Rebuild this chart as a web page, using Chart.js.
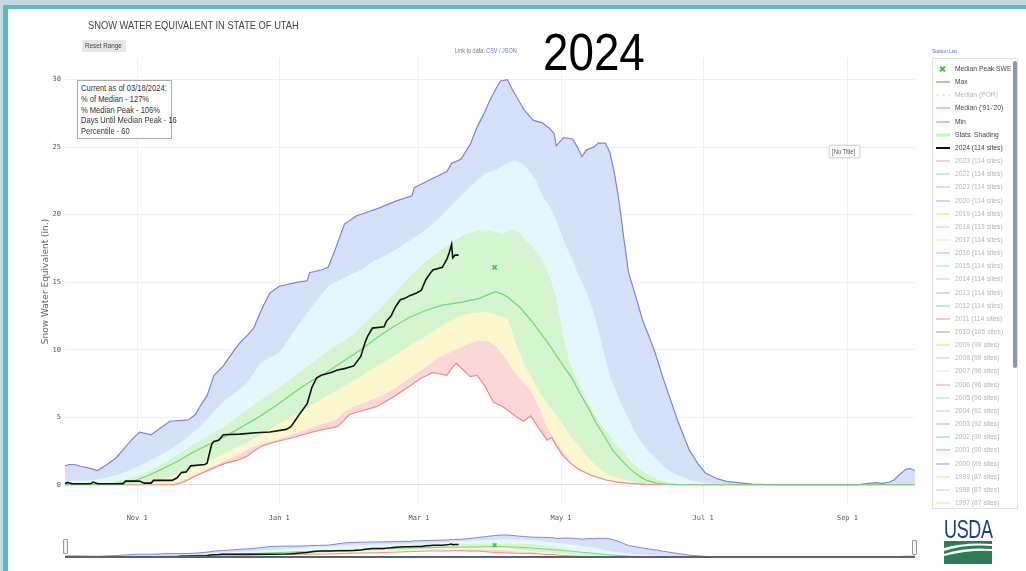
<!DOCTYPE html>
<html>
<head>
<meta charset="utf-8">
<title>Snow Water Equivalent in State of Utah</title>
<script src="https://cdn.jsdelivr.net/npm/chart.js@4.4.3/dist/chart.umd.min.js"></script>
<style>
  html, body { margin: 0; padding: 0; }
  body {
    width: 1026px; height: 571px; position: relative; overflow: hidden;
    background: #fff; font-family: "Liberation Sans", Arial, sans-serif;
  }
  canvas { display: block; }
  .narrow { display: inline-block; white-space: nowrap; transform: scaleX(0.84); transform-origin: left top; }
  .frame-top { position: absolute; left: 0; top: 0; width: 1026px; height: 5px; background: #c4d9df; }
  .frame-top-line { position: absolute; left: 3px; top: 5px; width: 1023px; height: 4px; background: #5fb7c4; }
  .frame-left { position: absolute; left: 0; top: 0; width: 3px; height: 571px; background: #c4d9df; }
  .frame-left-line { position: absolute; left: 3px; top: 5px; width: 5px; height: 566px; background: #5fb7c4; }
  #swe-chart { position: absolute; left: 0; top: 0; }
  #swe-navigator { position: absolute; left: 65px; top: 531px; }
  .chart-title { position: absolute; left: 88px; top: 19px; font-size: 11.5px; line-height: 13px; color: #444; }
  .chart-title .narrow { transform: scaleX(0.81); }
  .reset-range { position: absolute; left: 82px; top: 40px; width: 44px; height: 12px; background: #e6e6e6;
    font-size: 7.5px; line-height: 12px; color: #444; }
  .reset-range .narrow { margin-left: 3px; }
  .data-link { position: absolute; left: 455px; top: 47px; font-size: 6.5px; color: #777; }
  .data-link span span { color: #6680cc; }
  .year-stamp { position: absolute; left: 543px; top: 26px; font-size: 52px; line-height: 52px; color: #000;
    transform: scaleX(0.88); transform-origin: left top; }
  .info-box { position: absolute; left: 77px; top: 80px; width: 90px; height: 55px; border: 1px solid #aaa;
    background: #fff; padding: 2px 0 0 3px; font-size: 9px; line-height: 10.8px; color: #333; }
  .info-box .narrow { display: block; }
  .no-title { position: absolute; left: 829px; top: 145px; width: 29px; height: 11px; border: 1px solid #ddd;
    box-shadow: 0 0 2px #ccc; font-size: 7px; line-height: 11px; color: #555; background: #fff; }
  .no-title .narrow { margin-left: 2px; }
  .station-list { position: absolute; left: 932px; top: 48px; font-size: 6px; color: #5577cc; }
  .legend { position: absolute; left: 932px; top: 58px; width: 84px; height: 449px; border: 1px solid #e2e2e2; background: #fff; }
  .legend-item { position: absolute; left: 2px; height: 12px; width: 78px; }
  .legend-item svg { position: absolute; left: 0; top: 3px; }
  .legend-item .txt { position: absolute; left: 20px; top: 0; font-size: 8px; line-height: 12px; }
  .scrollbar { position: absolute; left: 80px; top: 2px; width: 4px; height: 307px; background: #8e95ad; border-radius: 2px; }
  .handle { position: absolute; width: 3px; height: 13px; border: 1px solid #999; background: #f2f2f2; border-radius: 1px; }
  .usda { position: absolute; left: 944px; top: 517px; width: 50px; }
  .usda .word { font-size: 25px; line-height: 24px; color: #1f3f84; letter-spacing: -0.5px;
    transform: scaleX(0.72); transform-origin: left top; white-space: nowrap; }
</style>
</head>
<body>
<div class="frame-top"></div>
<div class="frame-top-line"></div>
<div class="frame-left"></div>
<div class="frame-left-line"></div>

<canvas id="swe-chart" width="1026" height="530"></canvas>
<canvas id="swe-navigator" width="850" height="28"></canvas>

<div class="chart-title"><span class="narrow">SNOW WATER EQUIVALENT IN STATE OF UTAH</span></div>
<div class="reset-range"><span class="narrow">Reset Range</span></div>
<div class="data-link"><span class="narrow">Link to data: <span>CSV</span> / <span>JSON</span></span></div>
<div class="year-stamp">2024</div>
<div class="info-box" id="info-box"></div>
<div class="no-title"><span class="narrow">[No Title]</span></div>
<div class="station-list"><span class="narrow">Station List</span></div>
<div class="legend" id="legend"><div class="scrollbar"></div></div>
<div class="handle" style="left:63px; top:539px;"></div>
<div class="handle" style="left:912px; top:540px;"></div>
<div class="usda">
  <div class="word">USDA</div>
  <svg width="48" height="23" viewBox="0 0 48 23">
    <rect x="0" y="0" width="48" height="23" fill="#2d7b57"/>
    <path d="M0 7 Q20 1 48 3 L48 5 Q22 3 0 10 Z" fill="#fff"/>
    <path d="M0 13 Q22 6 48 8 L48 10 Q24 9 0 15 Z" fill="#fff"/>
  </svg>
</div>

<script>
// x values are days since Oct 1 (water year 2024), y values are inches of SWE
const monthTickDays = [31, 92, 152, 213, 274, 336];
const monthTickLabels = ["Nov 1", "Jan 1", "Mar 1", "May 1", "Jul 1", "Sep 1"];
const sweTicks = [0, 5, 10, 15, 20, 25, 30];

const maxSwe = [
  [0, 1.4], [2, 1.5], [4, 1.5], [7, 1.35], [10, 1.25], [14, 1.05], [18, 1.5], [22, 2.0], [26, 2.8],
  [29, 3.4], [32, 3.9], [37, 3.7], [41, 4.2], [45, 4.7], [53, 4.8], [56, 5.2], [58, 5.8], [61, 6.6],
  [64, 8.1], [68, 8.8], [72, 9.8], [75, 10.5], [78, 11.0], [81, 11.6], [85, 13.2], [88, 14.2], [92, 14.7],
  [100, 15.0], [104, 15.1], [105, 15.7], [110, 15.9], [113, 16.1], [116, 17.4], [120, 19.3], [125, 19.9],
  [130, 20.2], [135, 20.5], [142, 21.0], [149, 21.4], [150, 22.0], [157, 22.6], [164, 23.2], [166, 23.8],
  [170, 24.1], [174, 25.2], [177, 26.5], [180, 27.5], [182, 28.3], [185, 29.3], [187, 29.9], [190, 30.0],
  [192, 29.3], [195, 28.4], [197, 27.8], [201, 27.0], [205, 26.8], [208, 26.4], [210, 26.0], [211, 25.1],
  [214, 25.7], [218, 25.6], [220, 25.0], [222, 24.3], [224, 24.8], [227, 25.0], [229, 25.3], [232, 25.3],
  [234, 24.6], [236, 23.0], [238, 20.9], [240, 18.2], [242, 15.7], [245, 14.0], [248, 12.2], [253, 10.0],
  [257, 7.8], [260, 6.3], [263, 4.8], [268, 2.6], [272, 1.5], [275, 0.87], [280, 0.45], [284, 0.25],
  [295, 0.05], [305, 0], [340, 0], [344, 0.08], [348, 0.15], [351, 0.1], [354, 0.2], [356, 0.35],
  [358, 0.7], [361, 1.15], [363, 1.2], [365, 1.05],
];

const pct90 = [
  [0, 0.3], [8, 0.3], [15, 0.4], [24, 0.8], [32, 1.4], [39, 2.0], [45, 2.6], [52, 3.4], [58, 4.3],
  [64, 5.4], [69, 6.3], [74, 6.9], [78, 7.5], [84, 9.0], [92, 9.8], [97, 11.0], [101, 12.0], [107, 13.4],
  [113, 14.7], [120, 15.3], [127, 15.9], [133, 16.6], [138, 17.0], [144, 17.6], [150, 18.3], [155, 18.9],
  [160, 19.6], [165, 20.5], [170, 21.4], [175, 22.2], [180, 23.0], [185, 23.3], [190, 23.8], [193, 24.0],
  [196, 23.8], [199, 23.3], [202, 22.6], [205, 21.4], [209, 20.3], [212, 19.1], [215, 17.7], [218, 16.6],
  [220, 15.7], [224, 14.2], [227, 12.8], [231, 10.0], [234, 8.0], [238, 6.3], [241, 5.2], [244, 4.1],
  [247, 3.3], [250, 2.6], [254, 1.9], [257, 1.35], [262, 0.8], [268, 0.37], [274, 0.15], [280, 0.05],
  [290, 0], [365, 0],
];

const pct70 = [
  [0, 0], [15, 0.1], [23, 0.3], [30, 0.6], [36, 1.0], [41, 1.5], [48, 2.2], [55, 3.0], [62, 3.7],
  [69, 4.4], [76, 5.3], [84, 6.3], [91, 7.1], [98, 8.0], [105, 8.9], [112, 9.8], [118, 10.5], [124, 11.2],
  [130, 12.2], [135, 13.0], [142, 14.3], [150, 15.8], [156, 16.7], [163, 17.6], [171, 18.5], [178, 18.9],
  [183, 18.8], [188, 18.6], [192, 18.9], [195, 18.7], [198, 18.1], [201, 17.6], [204, 17.0], [208, 15.5],
  [211, 14.0], [214, 11.0], [216, 9.6], [218, 8.5], [221, 7.4], [225, 6.0], [230, 4.5], [237, 3.0],
  [242, 2.0], [248, 1.0], [254, 0.45], [260, 0.15], [267, 0.03], [275, 0], [365, 0],
];

const medianSwe = [
  [0, 0], [20, 0.05], [30, 0.3], [36, 0.7], [41, 1.1], [48, 1.7], [55, 2.4], [62, 3.0], [69, 3.6],
  [76, 4.3], [84, 5.1], [91, 5.9], [98, 6.8], [105, 7.6], [112, 8.3], [120, 9.2], [127, 10.0], [134, 10.9],
  [141, 11.7], [148, 12.4], [155, 12.9], [162, 13.3], [170, 13.5], [178, 13.8], [182, 14.1], [185, 14.3],
  [188, 14.1], [190, 13.9], [195, 13.2], [200, 12.2], [207, 10.6], [214, 8.8], [218, 7.8], [221, 6.8],
  [225, 5.6], [228, 4.6], [232, 3.5], [235, 2.6], [239, 1.8], [243, 1.1], [247, 0.6], [250, 0.3],
  [254, 0.12], [258, 0.05], [266, 0], [365, 0],
];

const pct30 = [
  [0, 0], [34, 0], [38, 0.15], [41, 0.3], [48, 0.8], [53, 1.1], [58, 1.4], [65, 2.0], [72, 2.6],
  [78, 3.1], [84, 3.7], [91, 4.4], [98, 5.1], [105, 5.8], [112, 6.5], [119, 7.2], [127, 8.0], [134, 8.8],
  [141, 9.5], [148, 10.3], [155, 11.0], [162, 11.8], [170, 12.5], [175, 12.7], [180, 12.8], [185, 12.6],
  [190, 12.3], [192, 11.3], [194, 10.2], [197, 9.0], [200, 8.0], [205, 6.5], [208, 5.8], [211, 5.1],
  [214, 4.4], [217, 3.6], [221, 2.8], [224, 2.1], [228, 1.4], [232, 0.87], [237, 0.5], [242, 0.25],
  [247, 0.08], [252, 0], [365, 0],
];

const pct10 = [
  [0, 0], [44, 0], [47, 0.15], [50, 0.3], [55, 0.7], [59, 1.0], [64, 1.4], [69, 1.8], [75, 2.3],
  [80, 2.8], [86, 3.1], [92, 3.4], [98, 3.8], [104, 4.1], [110, 4.5], [116, 4.8], [120, 5.4], [124, 5.8],
  [130, 6.2], [136, 6.6], [142, 7.2], [148, 7.9], [154, 8.6], [160, 9.4], [165, 9.8], [170, 10.2],
  [174, 10.5], [178, 10.7], [182, 10.6], [185, 10.3], [189, 9.4], [192, 8.6], [196, 7.8], [200, 7.0],
  [204, 5.6], [207, 4.3], [210, 3.4], [214, 2.4], [218, 1.6], [221, 1.1], [226, 0.65], [231, 0.37],
  [236, 0.2], [240, 0.1], [246, 0.03], [252, 0], [365, 0],
];

const minSwe = [
  [0, 0], [47, 0], [50, 0.15], [52, 0.3], [55, 0.55], [58, 0.8], [62, 1.1], [66, 1.4], [69, 1.6],
  [74, 1.8], [78, 2.1], [82, 2.6], [85, 2.9], [91, 3.2], [98, 3.5], [102, 3.7], [106, 3.9], [111, 4.1],
  [117, 4.3], [120, 4.8], [122, 5.2], [128, 5.5], [134, 5.8], [141, 6.5], [148, 7.3], [153, 7.9],
  [158, 8.3], [161, 8.2], [164, 8.1], [166, 8.6], [168, 9.0], [171, 8.5], [174, 8.0], [177, 8.1],
  [180, 7.4], [184, 6.1], [188, 5.8], [191, 5.4], [194, 5.0], [197, 4.7], [200, 5.1], [203, 4.3],
  [207, 3.3], [209, 3.5], [211, 2.9], [214, 2.1], [217, 1.6], [221, 1.1], [226, 0.7], [232, 0.37],
  [237, 0.2], [243, 0.1], [249, 0.03], [255, 0], [365, 0],
];

const wy2024 = [
  [0, 0.07], [1, 0.17], [3, 0.07], [11, 0.07], [12, 0.2], [14, 0.07], [25, 0.07], [26, 0.27], [32, 0.27],
  [34, 0.12], [37, 0.12], [38, 0.32], [46, 0.32], [48, 0.5], [50, 0.9], [52, 0.95], [54, 1.4], [60, 1.5],
  [61, 1.6], [63, 3.0], [64, 3.2], [66, 3.3], [68, 3.7], [75, 3.75], [82, 3.85], [88, 3.9], [95, 4.1],
  [97, 4.3], [99, 4.8], [101, 5.3], [104, 6.0], [106, 7.2], [108, 7.9], [110, 8.1], [114, 8.3], [117, 8.5],
  [120, 8.6], [124, 8.8], [127, 9.5], [129, 10.6], [130, 11.0], [132, 11.6], [137, 11.7], [138, 12.1],
  [140, 12.5], [142, 13.2], [144, 13.7], [146, 13.8], [148, 14.0], [151, 14.2], [153, 14.4], [155, 15.2],
  [157, 15.7], [158, 15.9], [162, 16.1], [164, 16.7], [165, 17.2], [166, 17.8], [166.5, 16.8], [167.5, 17.0],
  [169, 17.0],
];

const medianPeak = [[184.5, 16.1]];

const infoLines = [
  "Current as of 03/18/2024:",
  "% of Median - 127%",
  "% Median Peak - 106%",
  "Days Until Median Peak - 16",
  "Percentile - 60",
];

const statLegendLabels = ["Median Peak SWE", "Max", "Median (POR)", "Median ('91-'20)", "Min", "Stats. Shading", "2024 (114 sites)"];
const statLegendColors = ["#33cc33", "#8a8ae6", "#cfcfcf", "#77dd77", "#f08a80", "#c6f2c6", "#111111"];
const statLegendKinds = ["marker", "line", "dash", "line", "line", "thick", "bold"];
const yearLegendLabels = [
  "2023 (114 sites)", "2022 (114 sites)", "2021 (114 sites)", "2020 (114 sites)", "2019 (114 sites)",
  "2018 (113 sites)", "2017 (114 sites)", "2016 (114 sites)", "2015 (114 sites)", "2014 (114 sites)",
  "2013 (114 sites)", "2012 (114 sites)", "2011 (114 sites)", "2010 (105 sites)", "2009 (99 sites)",
  "2008 (99 sites)", "2007 (96 sites)", "2006 (96 sites)", "2005 (96 sites)", "2004 (92 sites)",
  "2003 (92 sites)", "2002 (90 sites)", "2001 (90 sites)", "2000 (89 sites)", "1999 (87 sites)",
  "1998 (87 sites)", "1997 (87 sites)",
];
const yearLegendColors = [
  "#c7bff2", "#9fdfcb", "#f5b5a5", "#b5b3f0", "#f9e49c", "#f7c0e6", "#eef0b8", "#f4a9bd", "#9fe6ee",
  "#f9cfae", "#bcbcf2", "#8fdcb9", "#f4a69c", "#a9a9f0", "#f7d98e", "#f7b8f0", "#eef0b4", "#f2aac2",
  "#a3e8ea", "#f7c9a8", "#b9b9f0", "#8fdcbf", "#f3a2a2", "#a8a2ee", "#e1e994", "#f7c0e0", "#e6ecb0",
];

const toPoints = (pairs) => pairs.map(([x, y]) => ({ x, y }));
const clear = "rgba(0,0,0,0)";

function buildDatasets(thin) {
  const w = thin ? 0.8 : 1;
  const band = (label, pairs, color) => ({
    label, data: toPoints(pairs), borderColor: clear, borderWidth: 0, pointRadius: 0,
    fill: "+1", backgroundColor: color,
  });
  return [
    { label: "2024 (114 sites)", data: toPoints(wy2024), borderColor: "#111111", borderWidth: thin ? 1.5 : 1.6,
      pointRadius: 0, fill: false },
    { label: "Median Peak SWE", data: toPoints(medianPeak), showLine: false, pointStyle: "crossRot",
      pointRadius: thin ? 2.5 : 3, borderColor: "#2fd02f", borderWidth: 1.6, fill: false },
    { label: "Median ('91-'20)", data: toPoints(medianSwe), borderColor: "#72d872", borderWidth: 1.2 * w,
      pointRadius: 0, fill: false },
    { label: "Max", data: toPoints(maxSwe), borderColor: "#8080e0", borderWidth: 1.2 * w, pointRadius: 0,
      fill: "+1", backgroundColor: "#d5e1f7" },
    band("90th", pct90, "#e3f7fd"),
    band("70th", pct70, "#d5f5d1"),
    band("30th", pct30, "#fdf7cd"),
    band("10th", pct10, "#fbd7d7"),
    { label: "Min", data: toPoints(minSwe), borderColor: "#f08a84", borderWidth: 1.2 * w, pointRadius: 0,
      fill: false },
  ];
}

const monoFont = { family: "DejaVu Sans Mono", size: 7 };

new Chart(document.getElementById("swe-chart"), {
  type: "line",
  data: { datasets: buildDatasets(false) },
  options: {
    responsive: false,
    animation: false,
    layout: { padding: { left: 36, top: 58, right: 111, bottom: 0 } },
    plugins: {
      legend: { display: false },
      tooltip: { enabled: false },
      filler: { drawTime: "beforeDatasetsDraw" },
    },
    scales: {
      x: {
        type: "linear",
        min: 0,
        max: 365,
        afterFit: (scale) => { scale.height = 25; },
        afterBuildTicks: (scale) => { scale.ticks = monthTickDays.map((value) => ({ value })); },
        ticks: {
          autoSkip: false,
          maxRotation: 0,
          padding: 9,
          color: "#555",
          font: monoFont,
          callback: (value, index) => monthTickLabels[index],
        },
        grid: { color: "#f0f0f0", drawTicks: false },
        border: { display: false },
      },
      y: {
        min: -1.5,
        max: 31.6,
        afterFit: (scale) => { scale.width = 29; },
        afterBuildTicks: (scale) => { scale.ticks = sweTicks.map((value) => ({ value })); },
        ticks: { padding: 4, color: "#555", font: monoFont },
        grid: {
          color: (ctx) => (ctx.tick && ctx.tick.value === 0 ? "#e3e3e3" : "#efefef"),
          drawTicks: false,
        },
        border: { display: false },
        title: {
          display: true,
          text: "Snow Water Equivalent (in.)",
          color: "#666",
          font: { family: "DejaVu Sans", size: 9 },
          padding: { top: 4, bottom: 0 },
        },
      },
    },
  },
});

// dark zero line of the range slider, placed through the y scale
const sliderBaseline = {
  id: "sliderBaseline",
  afterDatasetsDraw(chart) {
    const { ctx, chartArea, scales } = chart;
    const y = scales.y.getPixelForValue(0);
    ctx.save();
    ctx.strokeStyle = "#5a6174";
    ctx.lineWidth = 2;
    ctx.beginPath();
    ctx.moveTo(chartArea.left, y);
    ctx.lineTo(chartArea.right, y);
    ctx.stroke();
    ctx.restore();
  },
};

// range-slider preview under the main plot
new Chart(document.getElementById("swe-navigator"), {
  type: "line",
  data: { datasets: buildDatasets(true) },
  plugins: [sliderBaseline],
  options: {
    responsive: false,
    animation: false,
    layout: { padding: 0, autoPadding: false },
    plugins: {
      legend: { display: false },
      tooltip: { enabled: false },
      filler: { drawTime: "beforeDatasetsDraw" },
    },
    scales: {
      x: { type: "linear", min: 0, max: 365, display: false },
      y: { display: false, min: -2.7, max: 35.4 },
    },
  },
});

document.getElementById("info-box").innerHTML = infoLines
  .map((line) => `<span class="narrow">${line}</span>`)
  .join("");

function legendSymbol(kind, color) {
  if (kind === "marker") {
    return `<svg width="16" height="6"><path d="M5 0.5 L10 5.5 M10 0.5 L5 5.5" stroke="${color}" stroke-width="1.8"/></svg>`;
  }
  const width = kind === "thick" ? 3 : kind === "bold" ? 2 : 1.2;
  const dash = kind === "dash" ? ' stroke-dasharray="3,3"' : "";
  return `<svg width="16" height="6"><line x1="1" y1="3" x2="15" y2="3" stroke="${color}" stroke-width="${width}"${dash}/></svg>`;
}

const legend = document.getElementById("legend");
const legendRows = [];
statLegendLabels.forEach((label, i) => {
  legendRows.push({ label, color: statLegendColors[i], kind: statLegendKinds[i], active: i !== 2 });
});
yearLegendLabels.forEach((label, i) => {
  legendRows.push({ label, color: yearLegendColors[i], kind: "line", active: false });
});
legendRows.forEach((row, i) => {
  const item = document.createElement("div");
  item.className = "legend-item";
  item.style.top = `${4 + i * 13.15}px`;
  item.innerHTML = `${legendSymbol(row.kind, row.color)}<span class="txt"><span class="narrow" style="color:${row.active ? "#444" : "#b5b5b5"}">${row.label}</span></span>`;
  legend.appendChild(item);
});
</script>
</body>
</html>
